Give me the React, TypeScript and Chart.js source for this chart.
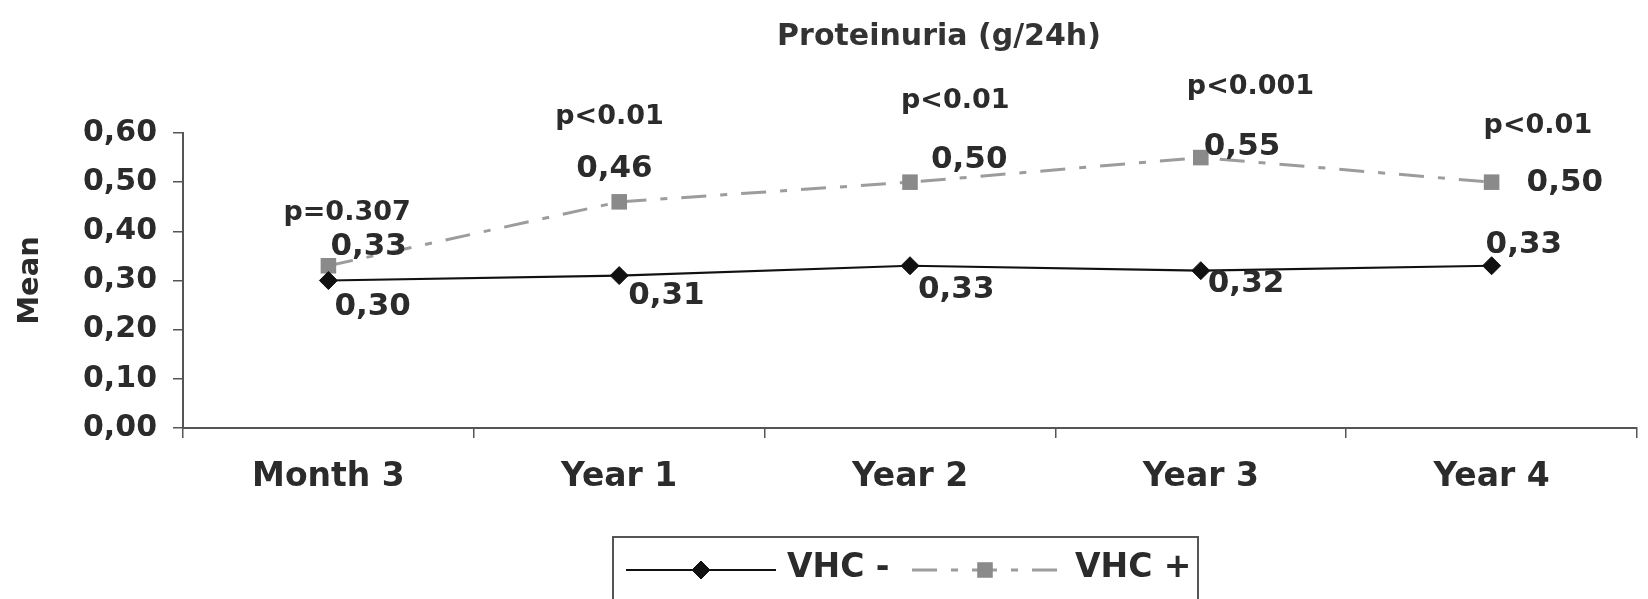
import React, { useEffect, useRef } from 'react';
import { Chart, registerables } from 'chart.js';
import { drawPoint } from 'chart.js/helpers';

Chart.register(...registerables);

// ---- data ----
const categories = ['Month 3', 'Year 1', 'Year 2', 'Year 3', 'Year 4'];
const vhcNegative = [0.3, 0.31, 0.33, 0.32, 0.33];
const vhcPositive = [0.33, 0.46, 0.5, 0.55, 0.5];
const pValueLabels = ['p=0.307', 'p<0.01', 'p<0.01', 'p<0.001', 'p<0.01'];
const seriesNames = ['VHC -', 'VHC +'];
const chartTitle = 'Proteinuria (g/24h)';
const yAxisTitle = 'Mean';
const yMin = 0;
const yMax = 0.6;
const yStep = 0.1;

// ---- label placement (left edge / text-centre offsets from each point, px) ----
const negLabelOffsets = [[6, 23], [9, 17], [8, 21], [7, 10], [-6, -24]];
const posLabelOffsets = [[2, -22], [-43, -36], [21, -25], [3, -14], [35, -2]];
const pLabelOffsets = [[-45, -56], [-64, -88], [-9, -84], [-14, -73], [-8, -59]];

// ---- styles ----
const FONT = "'DejaVu Sans', 'Liberation Sans', sans-serif";
const TEXT = '#2b2b2b';
const AXIS = '#555555';
const BLACK = '#111111';
const GREY_LINE = '#9c9c9c';
const GREY_MARK = '#8a8a8a';
const DASH = [25, 14, 7, 14];

const fmt = (v: number) => v.toFixed(2).replace('.', ',');

// Draws text so that the middle of its capitals sits at y.
function capText(ctx: CanvasRenderingContext2D, text: string, x: number, y: number, size: number) {
  ctx.font = `bold ${size}px ${FONT}`;
  ctx.fillText(text, x, y + 0.3645 * size);
}

const valueLabels = {
  id: 'valueLabels',
  afterDatasetsDraw(chart: any) {
    const ctx: CanvasRenderingContext2D = chart.ctx;
    const neg = chart.getDatasetMeta(0).data;
    const pos = chart.getDatasetMeta(1).data;
    ctx.save();
    ctx.fillStyle = TEXT;
    ctx.textAlign = 'left';
    ctx.textBaseline = 'alphabetic';
    vhcNegative.forEach((v, i) => {
      const [dx, dy] = negLabelOffsets[i];
      capText(ctx, fmt(v), neg[i].x + dx, neg[i].y + dy, 31);
    });
    vhcPositive.forEach((v, i) => {
      const [dx, dy] = posLabelOffsets[i];
      capText(ctx, fmt(v), pos[i].x + dx, pos[i].y + dy, 31);
      const [px, py] = pLabelOffsets[i];
      capText(ctx, pValueLabels[i], pos[i].x + px, pos[i].y + py, 27);
    });
    ctx.restore();
  },
};

const titleAndLegend = {
  id: 'titleAndLegend',
  afterDraw(chart: any) {
    const ctx: CanvasRenderingContext2D = chart.ctx;
    const ds = chart.data.datasets;
    ctx.save();

    // title
    ctx.fillStyle = '#333333';
    ctx.textAlign = 'center';
    ctx.textBaseline = 'alphabetic';
    ctx.font = `bold 30px ${FONT}`;
    ctx.fillText(chartTitle, 939, 45);

    // legend frame
    ctx.strokeStyle = AXIS;
    ctx.lineWidth = 2;
    ctx.setLineDash([]);
    ctx.strokeRect(613, 537, 585, 120);

    const ly = 570;
    const items = [
      { x0: 626, x1: 776, tx: 787 },
      { x0: 912, x1: 1058, tx: 1075 },
    ];
    items.forEach((it, i) => {
      const d = ds[i];
      ctx.save();
      ctx.strokeStyle = d.borderColor;
      ctx.lineWidth = d.borderWidth;
      ctx.setLineDash(d.borderDash || []);
      ctx.beginPath();
      ctx.moveTo(it.x0, ly);
      ctx.lineTo(it.x1, ly);
      ctx.stroke();
      ctx.setLineDash([]);
      ctx.fillStyle = d.pointBackgroundColor;
      ctx.strokeStyle = d.pointBorderColor;
      ctx.lineWidth = d.pointBorderWidth;
      drawPoint(ctx, {
        pointStyle: d.pointStyle,
        radius: d.pointRadius,
        rotation: 0,
        borderWidth: d.pointBorderWidth,
      } as any, (it.x0 + it.x1) / 2, ly);
      ctx.restore();

      ctx.fillStyle = TEXT;
      ctx.textAlign = 'left';
      capText(ctx, seriesNames[i], it.tx, 565, 33);
    });
    ctx.restore();
  },
};

export default function App() {
  const ref = useRef<HTMLCanvasElement>(null);

  useEffect(() => {
    document.body.style.margin = '0';
    const chart = new Chart(ref.current as HTMLCanvasElement, {
      type: 'line',
      data: {
        labels: categories,
        datasets: [
          {
            label: seriesNames[0],
            data: vhcNegative,
            borderColor: BLACK,
            backgroundColor: BLACK,
            borderWidth: 2.2,
            pointStyle: 'rectRot',
            pointRadius: 9,
            pointBackgroundColor: BLACK,
            pointBorderColor: BLACK,
            pointBorderWidth: 1,
            tension: 0,
          },
          {
            label: seriesNames[1],
            data: vhcPositive,
            borderColor: GREY_LINE,
            backgroundColor: GREY_MARK,
            borderWidth: 3,
            borderDash: DASH,
            pointStyle: 'rect',
            pointRadius: 11,
            pointBackgroundColor: GREY_MARK,
            pointBorderColor: GREY_MARK,
            pointBorderWidth: 0,
            tension: 0,
          },
        ],
      },
      options: {
        responsive: false,
        animation: false,
        devicePixelRatio: 1,
        layout: { padding: { top: 133, right: 5, bottom: 0, left: 0 } },
        plugins: {
          legend: { display: false },
          title: { display: false },
          tooltip: { enabled: false },
        },
        scales: {
          x: {
            type: 'category',
            offset: true,
            grid: {
              offset: true,
              drawOnChartArea: false,
              drawTicks: true,
              tickLength: 10,
              color: AXIS,
              lineWidth: 1.5,
            },
            border: { display: true, color: AXIS, width: 2 },
            ticks: {
              font: { family: FONT, size: 33, weight: 'bold' },
              color: TEXT,
              padding: 20,
              maxRotation: 0,
              autoSkip: false,
            },
            afterFit: (s: any) => {
              s.height = 171;
            },
          },
          y: {
            min: yMin,
            max: yMax,
            grid: {
              drawOnChartArea: false,
              drawTicks: true,
              tickLength: 10,
              color: AXIS,
              lineWidth: 1.5,
            },
            border: { display: true, color: AXIS, width: 2 },
            ticks: {
              stepSize: yStep,
              callback: (v: any) => fmt(Number(v)),
              font: { family: FONT, size: 30, weight: 'bold' },
              color: TEXT,
              padding: 16,
            },
            title: {
              display: true,
              text: yAxisTitle,
              font: { family: FONT, size: 29, weight: 'bold' },
              color: TEXT,
              padding: { top: 13, bottom: 0 },
            },
            afterFit: (s: any) => {
              s.width = 183;
            },
          },
        },
      },
      plugins: [valueLabels, titleAndLegend],
    });
    return () => chart.destroy();
  }, []);

  return (
    <div style={{ position: 'absolute', left: 0, top: 0, width: 1648, height: 599, background: '#ffffff' }}>
      <canvas ref={ref} width={1648} height={599} style={{ display: 'block', width: 1648, height: 599 }} />
    </div>
  );
}
